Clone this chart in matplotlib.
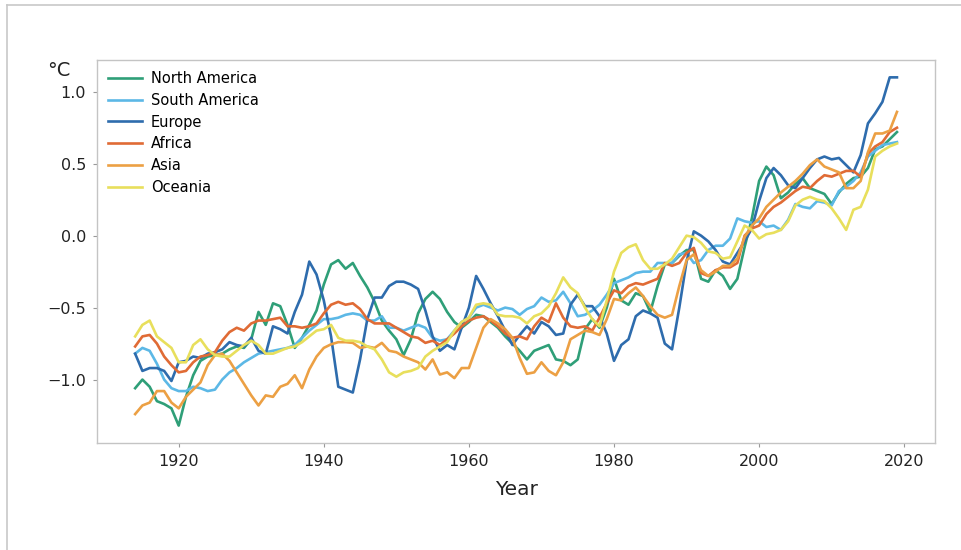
import matplotlib
matplotlib.use("Agg")
import matplotlib.pyplot as plt
from matplotlib.lines import Line2D

plt.rcParams['font.family'] = ['DejaVu Sans']

years = list(range(1914, 2020))

north_america = [
    -1.06, -1.00, -1.05, -1.15, -1.17, -1.20, -1.32, -1.12, -0.97, -0.87,
    -0.84, -0.83, -0.82, -0.79, -0.77, -0.78, -0.72, -0.53, -0.62, -0.47,
    -0.49, -0.62, -0.78, -0.71, -0.62, -0.52, -0.34, -0.20, -0.17, -0.23,
    -0.19, -0.28, -0.36, -0.46, -0.59, -0.66, -0.72, -0.83, -0.72, -0.54,
    -0.44, -0.39, -0.44, -0.53, -0.60, -0.64, -0.60, -0.55, -0.56, -0.60,
    -0.64, -0.70, -0.75, -0.80, -0.86, -0.80, -0.78, -0.76, -0.86, -0.87,
    -0.90, -0.86, -0.65, -0.58, -0.64, -0.50, -0.30, -0.45, -0.48, -0.40,
    -0.42, -0.53, -0.35, -0.20, -0.19, -0.14, -0.10, -0.10, -0.30, -0.32,
    -0.24, -0.28, -0.37, -0.30, -0.08, 0.12, 0.38, 0.48, 0.42, 0.26,
    0.30, 0.36, 0.40, 0.33, 0.31, 0.29, 0.22, 0.30, 0.36, 0.40,
    0.41, 0.47, 0.60, 0.62, 0.67, 0.72,
]

south_america = [
    -0.82, -0.78, -0.80, -0.89, -1.00, -1.06, -1.08, -1.08, -1.05, -1.06,
    -1.08, -1.07, -1.00, -0.95, -0.92, -0.88, -0.85, -0.82, -0.81, -0.80,
    -0.79, -0.78, -0.76, -0.71, -0.66, -0.62, -0.58, -0.58, -0.57, -0.55,
    -0.54, -0.55, -0.59, -0.59, -0.56, -0.64, -0.64, -0.66, -0.64, -0.62,
    -0.64, -0.71, -0.73, -0.72, -0.66, -0.60, -0.57, -0.50, -0.48, -0.50,
    -0.52, -0.50, -0.51, -0.55, -0.51, -0.49, -0.43, -0.46, -0.45, -0.39,
    -0.47, -0.56, -0.55, -0.52, -0.48, -0.41, -0.33, -0.31, -0.29, -0.26,
    -0.25, -0.25, -0.19, -0.19, -0.19, -0.13, -0.12, -0.19, -0.17, -0.10,
    -0.07, -0.07, -0.02, 0.12, 0.10, 0.09, 0.10, 0.06, 0.07, 0.04,
    0.11, 0.22, 0.20, 0.19, 0.24, 0.23, 0.21, 0.31, 0.34, 0.38,
    0.44, 0.55, 0.59, 0.63, 0.64, 0.65,
]

europe = [
    -0.82, -0.94, -0.92, -0.92, -0.94, -1.01, -0.88, -0.87, -0.84, -0.85,
    -0.82, -0.81, -0.79, -0.74, -0.76, -0.77, -0.71, -0.80, -0.82, -0.63,
    -0.65, -0.68, -0.53, -0.41, -0.18, -0.27, -0.45, -0.70, -1.05, -1.07,
    -1.09, -0.86, -0.58, -0.43, -0.43, -0.35, -0.32, -0.32, -0.34, -0.37,
    -0.52, -0.70, -0.80, -0.76, -0.79, -0.64, -0.50, -0.28, -0.37, -0.47,
    -0.56, -0.66, -0.76, -0.69, -0.63, -0.68, -0.60, -0.63, -0.69, -0.68,
    -0.48, -0.41, -0.49, -0.49, -0.56, -0.68, -0.87, -0.76, -0.72, -0.56,
    -0.52, -0.54, -0.57, -0.75, -0.79, -0.50, -0.18, 0.03, 0.00, -0.04,
    -0.10, -0.18, -0.20, -0.12, -0.04, 0.05, 0.24, 0.40, 0.47, 0.42,
    0.35, 0.33, 0.40, 0.47, 0.53, 0.55, 0.53, 0.54, 0.49, 0.44,
    0.56, 0.78, 0.85, 0.93, 1.10, 1.10,
]

africa = [
    -0.77, -0.70, -0.69, -0.75, -0.84, -0.90, -0.95, -0.94, -0.88, -0.84,
    -0.83, -0.81, -0.73, -0.67, -0.64, -0.66, -0.61, -0.59, -0.59, -0.58,
    -0.57, -0.63, -0.63, -0.64, -0.63, -0.61, -0.54, -0.48, -0.46, -0.48,
    -0.47, -0.51, -0.58, -0.61, -0.61, -0.61, -0.64, -0.67, -0.70, -0.71,
    -0.745, -0.73, -0.76, -0.72, -0.68, -0.63, -0.59, -0.57, -0.56, -0.59,
    -0.63, -0.68, -0.71, -0.70, -0.72, -0.63, -0.57, -0.60, -0.47, -0.57,
    -0.63, -0.64, -0.63, -0.66, -0.57, -0.47, -0.38, -0.40, -0.35, -0.33,
    -0.34, -0.32, -0.30, -0.19, -0.21, -0.19, -0.12, -0.085, -0.26, -0.28,
    -0.24, -0.22, -0.22, -0.19, 0.00, 0.05, 0.07, 0.15, 0.20, 0.23,
    0.27, 0.31, 0.34, 0.33, 0.38, 0.42, 0.41, 0.43, 0.45, 0.45,
    0.41, 0.57, 0.62, 0.65, 0.72, 0.75,
]

asia = [
    -1.24, -1.18, -1.16, -1.08, -1.08, -1.16, -1.20, -1.12, -1.07, -1.02,
    -0.90, -0.83, -0.82, -0.87, -0.95, -1.03, -1.11, -1.18, -1.11, -1.12,
    -1.05, -1.03, -0.97, -1.06, -0.93, -0.84, -0.78, -0.755, -0.74, -0.74,
    -0.745, -0.78, -0.77, -0.78, -0.745, -0.80, -0.81, -0.84, -0.86, -0.88,
    -0.93, -0.86, -0.965, -0.95, -0.99, -0.92, -0.92, -0.78, -0.64, -0.58,
    -0.61, -0.65, -0.71, -0.85, -0.96, -0.95, -0.88, -0.94, -0.97, -0.88,
    -0.72, -0.69, -0.66, -0.67, -0.69, -0.58, -0.44, -0.45, -0.40, -0.36,
    -0.42, -0.49, -0.55, -0.57, -0.55, -0.35, -0.17, -0.13, -0.24, -0.28,
    -0.25, -0.21, -0.21, -0.16, -0.01, 0.07, 0.12, 0.20, 0.25, 0.30,
    0.34, 0.38, 0.43, 0.49, 0.53, 0.48, 0.46, 0.44, 0.33, 0.33,
    0.38, 0.58, 0.71, 0.71, 0.73, 0.86,
]

oceania = [
    -0.70, -0.62, -0.59, -0.70, -0.74, -0.78, -0.88, -0.88, -0.76, -0.72,
    -0.79, -0.83, -0.84, -0.84, -0.80, -0.76, -0.73, -0.76, -0.82, -0.82,
    -0.80, -0.78, -0.77, -0.74, -0.70, -0.66, -0.65, -0.62, -0.71, -0.73,
    -0.73, -0.74, -0.77, -0.79, -0.86, -0.95, -0.98, -0.95, -0.94, -0.92,
    -0.84, -0.80, -0.77, -0.74, -0.66, -0.60, -0.57, -0.48, -0.47, -0.48,
    -0.55, -0.56, -0.56, -0.57, -0.61, -0.56, -0.54, -0.49, -0.40, -0.29,
    -0.36, -0.40, -0.50, -0.58, -0.63, -0.45, -0.25, -0.12, -0.08, -0.06,
    -0.17, -0.23, -0.23, -0.20, -0.16, -0.08, 0.00, -0.01, -0.05, -0.11,
    -0.12, -0.16, -0.15, -0.04, 0.07, 0.04, -0.02, 0.01, 0.02, 0.04,
    0.10, 0.21, 0.25, 0.27, 0.25, 0.24, 0.19, 0.12, 0.04, 0.18,
    0.20, 0.32, 0.55, 0.59, 0.62, 0.64,
]

series = [
    ('North America', north_america, '#2f9f78'),
    ('South America', south_america, '#5cb8e6'),
    ('Europe', europe, '#2e6cad'),
    ('Africa', africa, '#e06b35'),
    ('Asia', asia, '#eca044'),
    ('Oceania', oceania, '#e8df5c'),
]

fig = plt.figure(figsize=(9.61, 5.5), dpi=100)
ax = fig.add_axes([0.101, 0.1945, 0.872, 0.6965])

for name, values, color in series:
    ax.plot(years, values, color=color, linewidth=1.9, label=name)

ax.set_xticks([1920, 1940, 1960, 1980, 2000, 2020])
ax.set_yticks([-1.0, -0.5, 0.0, 0.5, 1.0])
ax.tick_params(labelsize=11.5, colors='#222222', length=3, color='#999999', pad=5)

for spine in ax.spines.values():
    spine.set_color('#c4c4c4')
    spine.set_linewidth(1.0)

ax.set_xlabel('Year', fontsize=14.5, color='#222222', labelpad=8)
fig.text(0.049, 0.862, '°C', fontsize=14, color='#222222')

ax.legend(loc='upper left', frameon=False, fontsize=10.5, handlelength=2.35,
          handletextpad=0.6, labelspacing=0.47, borderaxespad=0.35,
          bbox_to_anchor=(0.0, 1.0))

# outer frame lines (top and left) of the source screenshot
fig.add_artist(Line2D([7 / 961, 1.0], [1 - 5 / 550, 1 - 5 / 550],
                      transform=fig.transFigure, color='#c8c8c8', linewidth=1.2))
fig.add_artist(Line2D([7 / 961, 7 / 961], [0.0, 1 - 5 / 550],
                      transform=fig.transFigure, color='#c8c8c8', linewidth=1.2))

fig.savefig('out.png', dpi=100)
